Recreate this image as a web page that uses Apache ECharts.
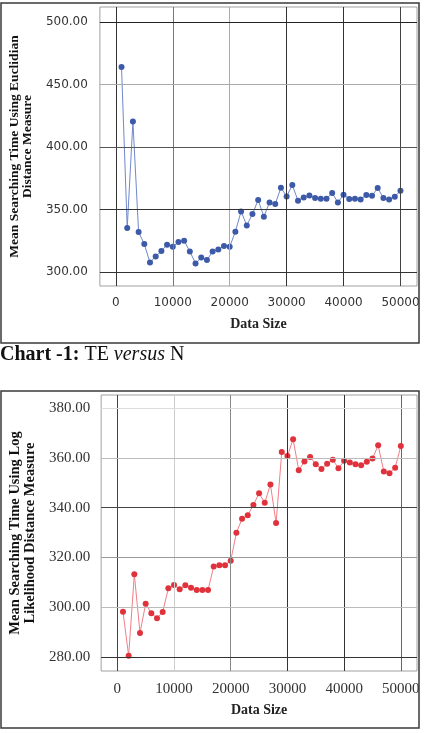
<!DOCTYPE html>
<html>
<head>
<meta charset="utf-8">
<script src="https://cdn.jsdelivr.net/npm/echarts@6/dist/echarts.min.js"></script>
<style>
  html, body { margin: 0; padding: 0; background: #fff; }
  #main { width: 425px; height: 733px; }
</style>
</head>
<body>
<div id="main"></div>
<script>
// data
var dataSize = [1000, 2000, 3000, 4000, 5000, 6000, 7000, 8000, 9000, 10000,
    11000, 12000, 13000, 14000, 15000, 16000, 17000, 18000, 19000, 20000,
    21000, 22000, 23000, 24000, 25000, 26000, 27000, 28000, 29000, 30000,
    31000, 32000, 33000, 34000, 35000, 36000, 37000, 38000, 39000, 40000,
    41000, 42000, 43000, 44000, 45000, 46000, 47000, 48000, 49000, 50000];

var euclidTime = [464, 335.3, 420.5, 332.1, 322.5, 307.8, 312.6, 316.9, 322, 320.4,
    324.1, 325.2, 316.6, 307, 311.8, 309.7, 316.6, 318.2, 320.9, 320.4,
    332.4, 348.6, 337.4, 346.5, 357.7, 344.4, 355.8, 354.5, 367.6, 360.6,
    369.7, 357.2, 359.8, 361.4, 359.3, 358.8, 358.8, 363.3, 355.8, 362,
    358.5, 358.8, 358.2, 361.7, 361.1, 367.3, 359.3, 358.2, 360.4, 365.2];

var logTime = [298.2, 280.5, 313.2, 289.7, 301.4, 297.6, 295.6, 298.1, 307.6, 308.9,
    307.2, 308.8, 307.8, 306.9, 306.9, 306.9, 316.4, 316.9, 316.9, 318.7,
    329.9, 335.5, 336.9, 341, 345.8, 341.9, 349.3, 333.8, 362.3, 360.7,
    367.4, 355, 358.5, 360.3, 357.4, 355.5, 357.6, 359.2, 355.8, 358.8,
    358.1, 357.4, 357, 358.4, 359.7, 365, 354.5, 353.8, 356, 364.7];

var xTicks = [0, 10000, 20000, 30000, 40000, 50000];
var euclidTicks = [300, 350, 400, 450, 500];
var logTicks = [280, 300, 320, 340, 360, 380];

// gridline shades (scanned original is uneven)
var topXShade = ['#333', '#777', '#aaa', '#333', '#333', '#444'];
var topYShade = ['#333', '#333', '#555', '#aaa', '#222'];
var botXShade = ['#444', '#ccc', '#888', '#333', '#333', '#666'];
var botYShade = ['#333', '#bbb', '#999', '#444', '#bbb', '#ddd'];

function pairs(xs, ys) {
    var out = [];
    for (var i = 0; i < xs.length; i++) {
        out.push([xs[i], ys[i]]);
    }
    return out;
}

function gridLines(ticks, shades, key) {
    var out = [];
    for (var i = 0; i < ticks.length; i++) {
        var item = { lineStyle: { color: shades[i] } };
        item[key] = ticks[i];
        out.push(item);
    }
    return out;
}

var topFont = 'DejaVu Sans';
var serif = 'Liberation Serif';

function xAxisFor(idx, min, max, font, size, gap) {
    return {
        type: 'value', gridIndex: idx, min: min, max: max,
        axisLine: { show: false },
        axisTick: { show: false },
        splitLine: { show: false },
        axisLabel: {
            customValues: xTicks, margin: 11,
            fontFamily: font, fontSize: size, color: '#333',
            formatter: function (v) { return String(v); }
        },
        name: 'Data Size', nameLocation: 'middle', nameGap: gap,
        nameTextStyle: { fontFamily: serif, fontWeight: 'bold', fontSize: 14, color: '#222' }
    };
}

function yAxisFor(idx, min, max, ticks, font, size, name, nameSize, lh, margin) {
    return {
        type: 'value', gridIndex: idx, min: min, max: max,
        axisLine: { show: false },
        axisTick: { show: true, customValues: ticks, length: 10, lineStyle: { color: '#555' } },
        splitLine: { show: false },
        axisLabel: {
            customValues: ticks, margin: margin,
            fontFamily: font, fontSize: size, color: '#333',
            formatter: function (v) { return v.toFixed(2); }
        },
        name: name, nameLocation: 'middle', nameRotate: 90, nameGap: 59,
        nameTextStyle: {
            fontFamily: serif, fontWeight: 'bold', fontSize: nameSize,
            lineHeight: lh, color: '#111'
        }
    };
}

var chart = echarts.init(document.getElementById('main'));

var option = {
    animation: false,
    backgroundColor: '#fff',
    title: {
        left: 0, top: 345, padding: 0,
        text: '{b|Chart -1:} {n|TE} {i|versus} {n|N}',
        textStyle: {
            fontFamily: serif, fontSize: 20, fontWeight: 'normal', color: '#111',
            rich: {
                b: { fontFamily: serif, fontSize: 20, fontWeight: 'bold', color: '#111' },
                n: { fontFamily: serif, fontSize: 20, fontWeight: 'normal', color: '#111' },
                i: { fontFamily: serif, fontSize: 20, fontWeight: 'normal', fontStyle: 'italic', color: '#111' }
            }
        }
    },
    graphic: [
        { type: 'rect', shape: { x: 1, y: 3, width: 418, height: 340 },
          style: { fill: 'none', stroke: '#3a3a3a', lineWidth: 1.5 }, z: 10 },
        { type: 'rect', shape: { x: 1, y: 391, width: 418, height: 337 },
          style: { fill: 'none', stroke: '#3a3a3a', lineWidth: 1.5 }, z: 10 }
    ],
    grid: [
        { left: 95, top: 7, right: 8, bottom: 447, show: true,
          borderColor: '#a0a0a0', borderWidth: 1, backgroundColor: '#fff' },
        { left: 98, top: 395, right: 8, bottom: 62, show: true,
          borderColor: '#a0a0a0', borderWidth: 1, backgroundColor: '#fff' }
    ],
    xAxis: [
        xAxisFor(0, -2800, 52900, topFont, 12, 31),
        xAxisFor(1, -2850, 52850, serif, 15, 32)
    ],
    yAxis: [
        yAxisFor(0, 289, 512, euclidTicks, topFont, 12,
            'Mean Searching Time Using Euclidian\nDistance Measure', 13.5, 13, 12),
        yAxisFor(1, 274.4, 385.2, logTicks, serif, 15,
            'Mean Searching Time Using Log\nLikelihood Distance Measure', 14.5, 15, 11)
    ],
    series: [
        // gridlines, kept under the data
        {
            type: 'line', xAxisIndex: 0, yAxisIndex: 0, data: [], z: 1, silent: true,
            markLine: {
                silent: true, symbol: 'none', label: { show: false },
                lineStyle: { type: 'solid', width: 1 },
                data: gridLines(xTicks, topXShade, 'xAxis').concat(gridLines(euclidTicks, topYShade, 'yAxis'))
            }
        },
        {
            type: 'line', xAxisIndex: 1, yAxisIndex: 1, data: [], z: 1, silent: true,
            markLine: {
                silent: true, symbol: 'none', label: { show: false },
                lineStyle: { type: 'solid', width: 1 },
                data: gridLines(xTicks, botXShade, 'xAxis').concat(gridLines(logTicks, botYShade, 'yAxis'))
            }
        },
        {
            name: 'Euclidian', type: 'line', xAxisIndex: 0, yAxisIndex: 0, z: 3,
            data: pairs(dataSize, euclidTime),
            symbol: 'circle', symbolSize: 6,
            itemStyle: { color: '#3d5aa8' },
            lineStyle: { color: '#7088cc', width: 1 }
        },
        {
            name: 'Log Likelihood', type: 'line', xAxisIndex: 1, yAxisIndex: 1, z: 3,
            data: pairs(dataSize, logTime),
            symbol: 'circle', symbolSize: 6,
            itemStyle: { color: '#e0323c' },
            lineStyle: { color: '#ee8088', width: 1 }
        }
    ]
};

chart.setOption(option);
</script>
</body>
</html>
